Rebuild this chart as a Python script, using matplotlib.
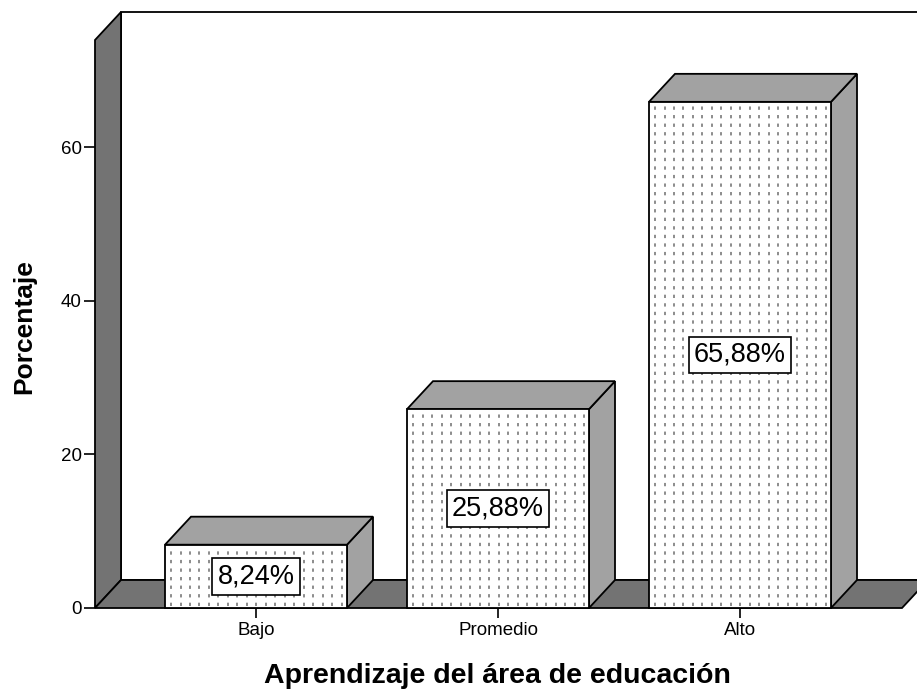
import matplotlib
matplotlib.use('Agg')
import matplotlib.pyplot as plt
from matplotlib.patches import Polygon
import numpy as np

# data
categories = ['Bajo', 'Promedio', 'Alto']
percentages = [8.24, 25.88, 65.88]
y_ticks = [0, 20, 40, 60]

plt.rcParams['font.family'] = ['Liberation Sans', 'DejaVu Sans']

W, H = 917, 693
fig = plt.figure(figsize=(W / 100, H / 100), dpi=100)

# front plane geometry in pixels
left_px, floor_px, top_px = 95, 608, 12
ax = fig.add_axes([left_px / W, (H - floor_px) / H, (W - left_px) / W, (floor_px - top_px) / H])
px_x = 242.0   # pixels per category
px_y = 7.683   # pixels per percent
x0 = -(256 - left_px) / px_x
ax.set_xlim(x0, x0 + (W - left_px) / px_x)
ax.set_ylim(0, (floor_px - top_px) / px_y)
top = (floor_px - top_px) / px_y

# depth offset of the 3D effect
dx = 26 / px_x
dy = 28 / px_y
bar_w = 182 / px_x
edge_lw = 1.3
wall_col = '#737373'
face_col = '#a2a2a2'

def poly(pts, fc, z):
    ax.add_patch(Polygon(pts, closed=True, facecolor=fc, edgecolor='black',
                         linewidth=edge_lw, zorder=z, clip_on=False, joinstyle='miter'))

# back wall, left wall, floor
x_far = x0 + 5
poly([(x0 + dx, dy), (x_far, dy), (x_far, top), (x0 + dx, top)], 'white', 1)
poly([(x0, 0), (x0, top - dy), (x0 + dx, top), (x0 + dx, dy)], wall_col, 2)
x_floor = (902 - 256) / px_x
poly([(x0, 0), (x_floor, 0), (x_floor + dx, dy), (x0 + dx, dy)], wall_col, 2)

# bars
for i, v in enumerate(percentages):
    l, r = i - bar_w / 2, i + bar_w / 2
    z = 3 + i
    poly([(r, 0), (r + dx, dy), (r + dx, v + dy), (r, v)], face_col, z)
    poly([(l, v), (r, v), (r + dx, v + dy), (l + dx, v + dy)], face_col, z)
    poly([(l, 0), (r, 0), (r, v), (l, v)], 'white', z)
    # dotted fill pattern
    xs = np.arange(l + 6 / px_x, r - 2 / px_x, 9.5 / px_x)
    ax.vlines(xs, 0.3, v - 0.3, colors='#8c8c8c', linestyles=[(0, (1.7, 2.7))],
              linewidth=1.4, zorder=z + 0.1)
    label = f"{v:.2f}%".replace('.', ',')
    ax.text(i, v / 2, label, ha='center', va='center', fontsize=19.5, zorder=z + 0.2,
            bbox=dict(boxstyle='square,pad=0.2', facecolor='white', edgecolor='black', linewidth=1.2))

for s in ax.spines.values():
    s.set_visible(False)

ax.set_yticks(y_ticks)
ax.set_xticks(range(len(categories)), categories)
ax.tick_params(axis='y', length=8, width=1.2, pad=1.5, labelsize=13.5)
ax.tick_params(axis='x', length=7, width=1.2, pad=3, labelsize=13.5)

fig.text(497 / W, 1 - 676 / H, 'Aprendizaje del área de educación', ha='center', va='center',
         fontsize=20.5, fontweight='bold')
fig.text(24 / W, 1 - 327 / H, 'Porcentaje', ha='center', va='center', rotation=90,
         fontsize=19, fontweight='bold')

fig.savefig('out.png', dpi=100)
